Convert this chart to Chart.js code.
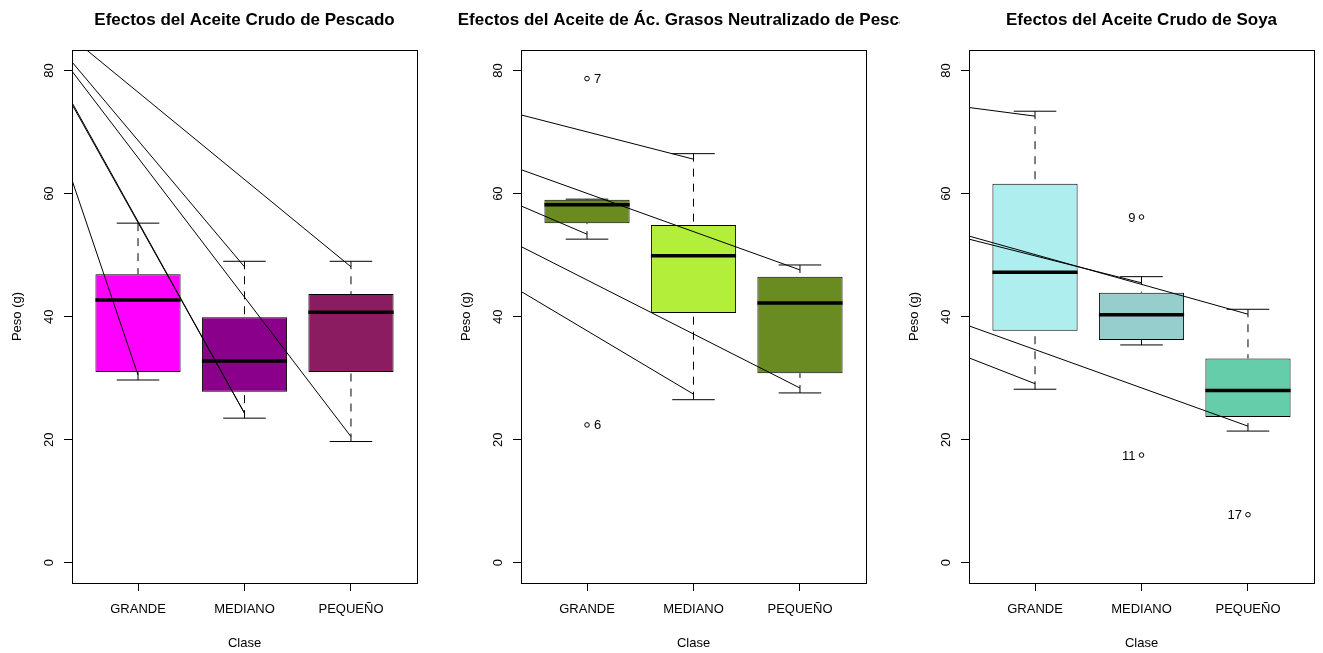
<!DOCTYPE html>
<html>
<head>
<meta charset="utf-8">
<script src="https://cdn.jsdelivr.net/npm/chart.js@4.4.1/dist/chart.umd.min.js"></script>
<style>
  html, body { margin: 0; padding: 0; background: #fff; }
  body { width: 1323px; height: 653px; position: relative; overflow: hidden; }
  .panel { position: absolute; top: 0; height: 653px; overflow: hidden; }
  .panel canvas { position: absolute; left: 0; top: 0; }
</style>
</head>
<body>
<div class="panel" style="left:0;width:449px"><canvas id="c1" width="489" height="653"></canvas></div>
<div class="panel" style="left:449px;width:451px"><canvas id="c2" width="489" height="653"></canvas></div>
<div class="panel" style="left:897px;width:426px"><canvas id="c3" width="489" height="653"></canvas></div>
<script>
// ========================================
// BOXPLOTS - PESO (g) POR CLASE
// ========================================

const categories = ['GRANDE', 'MEDIANO', 'PEQUEÑO'];
const yTicks = [0, 20, 40, 60, 80];

// Aceite Crudo de Pescado
const pescadoLow = [29.7, 23.5, 19.7];
const pescadoQ1 = [31.0, 27.8, 31.0];
const pescadoMed = [42.7, 32.8, 40.7];
const pescadoQ3 = [46.9, 39.9, 43.7];
const pescadoHigh = [55.2, 49.0, 49.0];
const pescadoOutX = [];
const pescadoOutY = [];
const pescadoOutLabels = [];
// lineas: valor en el borde izquierdo -> punto final (clase, peso)
const pescadoLineStart = [85.3, 81.4, 79.9, 74.8, 74.5, 62.2];
const pescadoLineEndX = [3, 2, 3, 2, 2, 1];
const pescadoLineEndY = [48.1, 48.1, 20.5, 24.3, 24.3, 30.5];

// Aceite de Ác. Grasos Neutralizado de Pescado
const neutroLow = [52.6, 26.5, 27.6];
const neutroQ1 = [55.2, 40.6, 30.8];
const neutroMed = [58.2, 49.9, 42.2];
const neutroQ3 = [59.0, 54.9, 46.5];
const neutroHigh = [59.1, 66.5, 48.4];
const neutroOutX = [1, 1];
const neutroOutY = [78.7, 22.4];
const neutroOutLabels = ['7', '6'];
const neutroLineStart = [72.8, 63.9, 58.0, 51.4, 44.1];
const neutroLineEndX = [2, 3, 1, 3, 2];
const neutroLineEndY = [65.6, 47.6, 53.4, 28.4, 27.4];

// Aceite Crudo de Soya
const soyaLow = [28.2, 35.4, 21.4];
const soyaQ1 = [37.7, 36.2, 23.7];
const soyaMed = [47.2, 40.3, 28.0];
const soyaQ3 = [61.6, 43.9, 33.2];
const soyaHigh = [73.4, 46.5, 41.2];
const soyaOutX = [2, 2, 3];
const soyaOutY = [56.2, 17.5, 7.8];
const soyaOutLabels = ['9', '11', '17'];
const soyaLineStart = [74.0, 53.1, 52.6, 38.5, 33.3];
const soyaLineEndX = [1, 3, 2, 3, 1];
const soyaLineEndY = [72.6, 40.4, 45.5, 22.2, 29.1];

// Escalas (como en R: 4% extra)
const X_MIN = 0.38, X_MAX = 3.62;
const Y_MIN = -3.3, Y_MAX = 83.35;

const TEXT_FAMILY = "'Liberation Sans', Arial, sans-serif";
const TEXT_SIZE = 13;

Chart.defaults.font.family = TEXT_FAMILY;
Chart.defaults.font.size = TEXT_SIZE;
Chart.defaults.color = '#000';

// Convierte segmentos [x0, y0, x1, y1] en puntos con cortes (null)
function toPoints(pairs) {
    const pts = [];
    pairs.forEach(function (p) {
        pts.push({ x: p[0], y: p[1] }, { x: p[2], y: p[3] }, { x: p[2], y: null });
    });
    return pts;
}

function lineSet(pairs, extra) {
    return Object.assign({
        type: 'line',
        data: toPoints(pairs),
        borderColor: '#000',
        borderWidth: 1,
        pointRadius: 0,
        tension: 0,
        fill: false,
        spanGaps: false
    }, extra);
}

// Marco completo alrededor del área del gráfico
const framePlugin = {
    id: 'rFrame',
    afterDatasetsDraw(chart) {
        const ctx = chart.ctx;
        const a = chart.chartArea;
        ctx.save();
        ctx.strokeStyle = '#000';
        ctx.lineWidth = 1;
        ctx.strokeRect(Math.round(a.left) + 0.5, Math.round(a.top) + 0.5,
            Math.round(a.right - a.left), Math.round(a.bottom - a.top));
        ctx.restore();
    }
};

// Etiquetas de los valores atípicos
const outlierTextPlugin = {
    id: 'outlierText',
    afterDatasetsDraw(chart, args, opts) {
        const meta = chart.getDatasetMeta(opts.dataset);
        const ctx = chart.ctx;
        ctx.save();
        ctx.font = TEXT_SIZE + 'px ' + TEXT_FAMILY;
        ctx.fillStyle = '#000';
        ctx.textBaseline = 'middle';
        meta.data.forEach(function (pt, i) {
            const left = opts.side === 'left';
            ctx.textAlign = left ? 'right' : 'left';
            ctx.fillText(opts.labels[i], pt.x + (left ? -6 : 7), pt.y + 1);
        });
        ctx.restore();
    }
};

function makePanel(id, title, low, q1, med, q3, high, colors, outX, outY, outLabels, labelSide, lineStart, lineEndX, lineEndY) {
    const whiskers = [], caps = [], medians = [];
    categories.forEach(function (c, i) {
        const x = i + 1;
        whiskers.push([x, low[i], x, q1[i]], [x, high[i], x, q3[i]]);
        caps.push([x - 0.2, low[i], x + 0.2, low[i]], [x - 0.2, high[i], x + 0.2, high[i]]);
        medians.push([x - 0.4, med[i], x + 0.4, med[i]]);
    });
    const segs = lineStart.map(function (y0, i) { return [X_MIN, y0, lineEndX[i], lineEndY[i]]; });

    const datasets = [
        lineSet(segs, { order: 0, clip: 0 }),
        {
            type: 'line',
            data: outX.map(function (x, i) { return { x: x, y: outY[i] }; }),
            showLine: false,
            pointRadius: 2.3,
            pointBorderWidth: 1,
            pointBorderColor: '#000',
            pointBackgroundColor: 'rgba(0,0,0,0)',
            order: 1
        },
        lineSet(medians, { borderWidth: 3.5, borderCapStyle: 'butt', order: 2 }),
        lineSet(caps, { order: 3 }),
        lineSet(whiskers, { borderDash: [8, 7], order: 3 }),
        {
            type: 'bar',
            data: categories.map(function (c, i) { return { x: i + 1, y: [q1[i], q3[i]] }; }),
            backgroundColor: colors,
            borderColor: '#000',
            borderWidth: 1,
            borderSkipped: false,
            barPercentage: 0.8,
            categoryPercentage: 1,
            order: 4
        }
    ];

    return new Chart(document.getElementById(id), {
        type: 'bar',
        data: { datasets: datasets },
        plugins: [framePlugin, outlierTextPlugin],
        options: {
            responsive: false,
            animation: false,
            events: [],
            layout: { padding: 0 },
            plugins: {
                legend: { display: false },
                tooltip: { enabled: false },
                title: {
                    display: true,
                    text: title,
                    color: '#000',
                    font: { family: "'Liberation Sans', Arial, sans-serif", size: 17, weight: 'bold' },
                    padding: { top: 10, bottom: 19.6 }
                },
                outlierText: { dataset: 1, labels: outLabels, side: labelSide }
            },
            scales: {
                x: {
                    type: 'linear',
                    min: X_MIN,
                    max: X_MAX,
                    offset: false,
                    afterBuildTicks: function (s) { s.ticks = categories.map(function (c, i) { return { value: i + 1 }; }); },
                    afterFit: function (s) { s.height = 70; },
                    ticks: {
                        autoSkip: false,
                        maxRotation: 0,
                        padding: 11,
                        callback: function (v) { return categories[v - 1]; }
                    },
                    grid: { offset: false, drawOnChartArea: false, drawTicks: true, tickLength: 8, tickColor: '#000', tickWidth: 1 },
                    border: { display: false },
                    title: { display: true, text: 'Clase', padding: { top: 0, bottom: 2 } }
                },
                y: {
                    type: 'linear',
                    min: Y_MIN,
                    max: Y_MAX,
                    afterBuildTicks: function (s) { s.ticks = yTicks.map(function (v) { return { value: v }; }); },
                    afterFit: function (s) { s.width = 72; },
                    ticks: { minRotation: 90, maxRotation: 90, crossAlign: 'center', padding: 7 },
                    grid: { drawOnChartArea: false, drawTicks: true, tickLength: 8, tickColor: '#000', tickWidth: 1 },
                    border: { display: false },
                    title: { display: true, text: 'Peso (g)', padding: { top: 10, bottom: 0 } }
                },
                // eje vacío a la derecha: deja el título centrado sobre el área
                yRight: {
                    type: 'linear',
                    position: 'right',
                    display: true,
                    afterFit: function (s) { s.width = 72; },
                    ticks: { display: false },
                    grid: { display: false, drawTicks: false },
                    border: { display: false }
                }
            }
        }
    });
}

makePanel('c1', 'Efectos del Aceite Crudo de Pescado',
    pescadoLow, pescadoQ1, pescadoMed, pescadoQ3, pescadoHigh,
    ['#FF00FF', '#8B008B', '#8B1C62'],
    pescadoOutX, pescadoOutY, pescadoOutLabels, 'right',
    pescadoLineStart, pescadoLineEndX, pescadoLineEndY);

makePanel('c2', 'Efectos del Aceite de Ác. Grasos Neutralizado de Pescado',
    neutroLow, neutroQ1, neutroMed, neutroQ3, neutroHigh,
    ['#698B22', '#B3EE3A', '#698B22'],
    neutroOutX, neutroOutY, neutroOutLabels, 'right',
    neutroLineStart, neutroLineEndX, neutroLineEndY);

makePanel('c3', 'Efectos del Aceite Crudo de Soya',
    soyaLow, soyaQ1, soyaMed, soyaQ3, soyaHigh,
    ['#AEEEEE', '#96CDCD', '#66CDAA'],
    soyaOutX, soyaOutY, soyaOutLabels, 'left',
    soyaLineStart, soyaLineEndX, soyaLineEndY);
</script>
</body>
</html>
